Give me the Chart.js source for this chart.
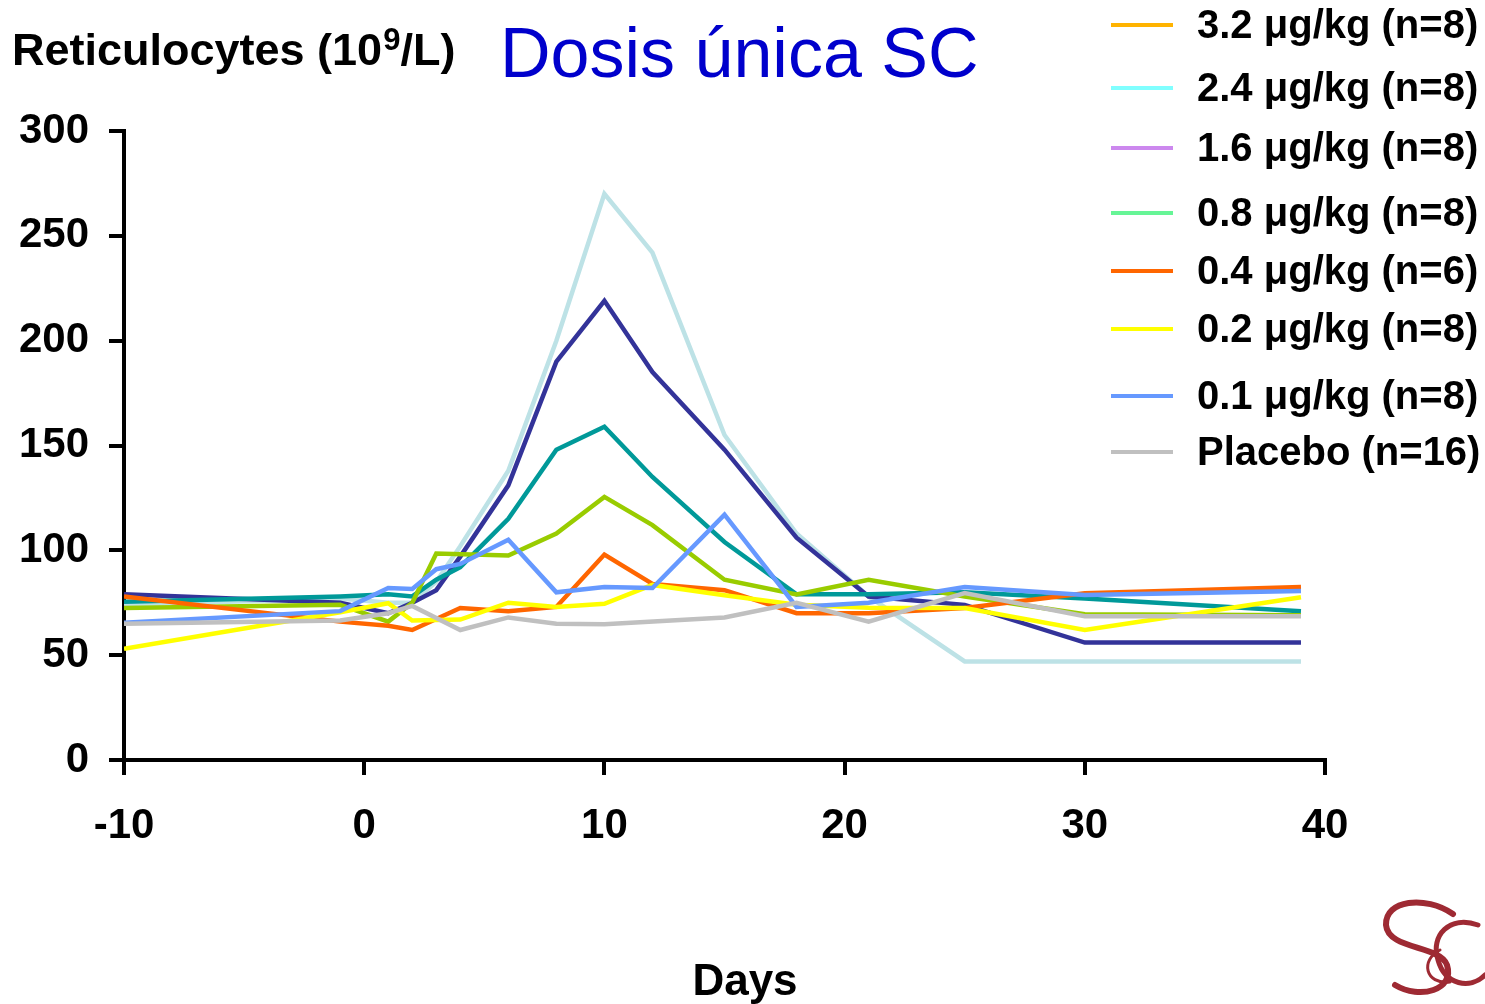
<!DOCTYPE html>
<html>
<head>
<meta charset="utf-8">
<script src="https://cdn.jsdelivr.net/npm/chart.js@4/dist/chart.umd.min.js"></script>
<style>
  html, body { margin: 0; padding: 0; background: #ffffff; overflow: hidden; }
  canvas { display: block; }
</style>
</head>
<body>
<canvas id="chart" width="1485" height="1004" style="width:1485px;height:1004px"></canvas>
<script>
// Study days (x) at which reticulocyte counts were sampled
const days = [-10, -1, 1, 2, 3, 4, 6, 8, 10, 12, 15, 18, 21, 25, 30, 39];

// Mean reticulocyte counts (10^9/L) per dose group; null = no sample for that group
const dose32 = [74, 77, 75, 75, 85, 102, 138, 200, 270, 242, 155, 108, 78, 47, 47, 47];
const dose24 = [79, 75, 70, 75, 81, 97, 131, 190, 219, 185, 148, 106, 78, 74, 56, 56];
const dose16 = [75.5, 78, 79, 78, 86, 92, 115, 148, 159, 135, 104, 79, 79, 80, 77, 71];
const dose08 = [72.5, 74, 66, 75, 98.5, null, 97.5, 108, 125.5, 112, 86, 79, 86, 78, 69.5, 69];
const dose04 = [78, 66, 64, 62, null, 72.5, 71, 73, 98, 84, 81, 70, 70, 72.5, 79.5, 82.5];
const dose02 = [53, 70.5, 74.8, 66.5, null, 67, 75, 73, 74.5, 83.5, 78.6, 74, 72.6, 72.5, 62, 77.6];
const dose01 = [65.5, 71, 82, 81.6, 91, 93.5, 105, 80, 82.5, 82, 117, 73, 75, 82.5, 78.7, 80.6];
const placebo = [65, 66.5, 70, 73.5, null, 62, 68, 65, 64.8, null, 68, 75, 66, 79.6, 68.6, 68.6];

// Group labels, in legend order
const groupLabels = [
  '3.2 μg/kg (n=8)', '2.4 μg/kg (n=8)', '1.6 μg/kg (n=8)', '0.8 μg/kg (n=8)',
  '0.4 μg/kg (n=6)', '0.2 μg/kg (n=8)', '0.1 μg/kg (n=8)', 'Placebo (n=16)'
];
const groupValues = [dose32, dose24, dose16, dose08, dose04, dose02, dose01, placebo];

// Axis tick settings
const xTicks = { min: -10, max: 40, step: 10 };
const yTicks = { min: 0, max: 300, step: 50 };

// Styling
const lineColors = ['#BDE2E6', '#333399', '#009999', '#99CC00', '#FF6600', '#FFFF00', '#6699FF', '#C0C0C0'];
const legendColors = ['#FFB300', '#80FFFF', '#CC88EE', '#66F596', '#FF6600', '#FFFF00', '#6699FF', '#C0C0C0'];
const FONT = '"Liberation Sans", Arial, Helvetica, sans-serif';

const datasets = groupLabels.map((label, i) => ({
  label,
  data: days.map((d, j) => ({ x: d, y: groupValues[i][j] })),
  borderColor: lineColors[i],
  backgroundColor: lineColors[i],
  borderWidth: 4.5,
  pointRadius: 0,
  tension: 0,
  spanGaps: true,
  fill: false,
  order: groupLabels.length - i   // later groups are painted over earlier ones
}));

// Headings, legend and emblem painted on the canvas
const decorations = {
  id: 'decorations',
  afterDraw(chart) {
    const ctx = chart.ctx;
    ctx.save();
    ctx.textBaseline = 'alphabetic';
    ctx.fillStyle = '#000';

    // Axis heading with superscript exponent
    ctx.font = 'bold 45px ' + FONT;
    let x = 12;
    const base = 65;
    const partA = 'Reticulocytes (10';
    ctx.fillText(partA, x, base);
    x += ctx.measureText(partA).width;
    ctx.font = 'bold 31px ' + FONT;
    ctx.fillText('9', x + 1, base - 15);
    x += ctx.measureText('9').width + 1;
    ctx.font = 'bold 45px ' + FONT;
    ctx.fillText('/L)', x, base);

    // Main title
    ctx.fillStyle = '#0000CC';
    ctx.font = '70px ' + FONT;
    ctx.fillText('Dosis única SC', 500, 77);

    // X axis heading
    ctx.fillStyle = '#000';
    ctx.font = 'bold 44px ' + FONT;
    ctx.textAlign = 'center';
    ctx.fillText('Days', 745, 995);
    ctx.textAlign = 'left';

    // Legend
    const rows = [25, 88, 148, 213, 271, 329, 396, 452];
    ctx.font = 'bold 40px ' + FONT;
    ctx.textBaseline = 'middle';
    groupLabels.forEach((label, i) => {
      ctx.strokeStyle = legendColors[i];
      ctx.lineWidth = 4;
      ctx.beginPath();
      ctx.moveTo(1111, rows[i]);
      ctx.lineTo(1173, rows[i]);
      ctx.stroke();
      ctx.fillStyle = '#000';
      ctx.fillText(label, 1197, rows[i] + 2);
    });

    // Emblem (bottom right)
    ctx.strokeStyle = '#9E2A33';
    ctx.lineCap = 'round';
    ctx.lineWidth = 6;
    ctx.beginPath();
    ctx.moveTo(1453, 914);
    ctx.bezierCurveTo(1425, 895, 1385, 900, 1386, 925);
    ctx.bezierCurveTo(1388, 950, 1440, 945, 1447, 965);
    ctx.bezierCurveTo(1455, 990, 1420, 1000, 1395, 985);
    ctx.stroke();
    ctx.lineWidth = 5;
    ctx.beginPath();
    ctx.moveTo(1478, 925);
    ctx.bezierCurveTo(1450, 915, 1430, 935, 1438, 960);
    ctx.bezierCurveTo(1445, 985, 1470, 990, 1485, 975);
    ctx.stroke();
    ctx.lineWidth = 3;
    ctx.beginPath();
    ctx.moveTo(1440, 950);
    ctx.bezierCurveTo(1420, 960, 1425, 985, 1450, 982);
    ctx.stroke();
    ctx.restore();
  }
};

new Chart(document.getElementById('chart'), {
  type: 'line',
  data: { datasets },
  plugins: [decorations],
  options: {
    responsive: false,
    animation: false,
    devicePixelRatio: 1,
    layout: { padding: { top: 131, right: 160, left: 0, bottom: 0 } },
    plugins: { legend: { display: false }, title: { display: false }, tooltip: { enabled: false } },
    scales: {
      x: {
        type: 'linear',
        min: xTicks.min,
        max: xTicks.max,
        afterFit(scale) { scale.height = 244; },
        border: { display: true, color: '#000', width: 4 },
        grid: { display: true, drawOnChartArea: false, drawTicks: true, tickLength: 15, color: '#000', lineWidth: 4 },
        ticks: { stepSize: xTicks.step, color: '#000', padding: 26, font: { family: FONT, size: 42, weight: 'bold' } }
      },
      y: {
        type: 'linear',
        min: yTicks.min,
        max: yTicks.max,
        afterFit(scale) { scale.width = 124; },
        border: { display: true, color: '#000', width: 4 },
        grid: { display: true, drawOnChartArea: false, drawTicks: true, tickLength: 15, color: '#000', lineWidth: 4 },
        ticks: { stepSize: yTicks.step, color: '#000', padding: 20, font: { family: FONT, size: 42, weight: 'bold' } }
      }
    }
  }
});
</script>
</body>
</html>
